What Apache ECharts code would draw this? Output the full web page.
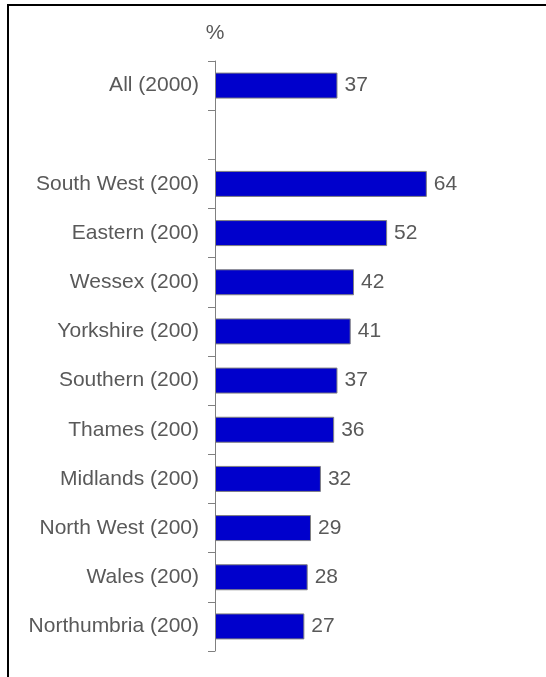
<!DOCTYPE html>
<html>
<head>
<meta charset="utf-8">
<script src="https://cdn.jsdelivr.net/npm/echarts@6/dist/echarts.min.js"></script>
<style>
  html, body { margin: 0; padding: 0; background: #fff; }
  #chart { width: 546px; height: 677px; }
</style>
</head>
<body>
<div id="chart"></div>
<script>
// Regions and sample sizes; the empty entry leaves a gap after the total
const categories = [
  'All (2000)', '',
  'South West (200)', 'Eastern (200)', 'Wessex (200)', 'Yorkshire (200)',
  'Southern (200)', 'Thames (200)', 'Midlands (200)', 'North West (200)',
  'Wales (200)', 'Northumbria (200)'
];
const values = [37, null, 64, 52, 42, 41, 37, 36, 32, 29, 28, 27];
const unitLabel = '%';

const textColor = '#595959';
const chart = echarts.init(document.getElementById('chart'), null, { renderer: 'canvas' });

chart.setOption({
  animation: false,
  backgroundColor: '#fff',
  textStyle: { fontFamily: 'Liberation Sans, Arial, sans-serif' },
  graphic: [{
    type: 'rect',
    shape: { x: 8, y: 5, width: 560, height: 700 },
    style: { fill: 'none', stroke: '#000', lineWidth: 2 },
    silent: true
  }],
  grid: { left: 215, top: 61, right: 0, bottom: 26, containLabel: false },
  xAxis: {
    type: 'value', min: 0, max: 100,
    show: false
  },
  yAxis: {
    type: 'category',
    data: categories,
    inverse: true,
    name: unitLabel,
    nameLocation: 'start',
    nameGap: 17,
    nameTextStyle: { color: textColor, fontSize: 21, align: 'center' },
    axisLine: { show: true, lineStyle: { color: '#808080', width: 1 } },
    axisTick: { show: true, length: 7, lineStyle: { color: '#808080' } },
    axisLabel: { color: textColor, fontSize: 21, margin: 16 },
    splitLine: { show: false }
  },
  series: [{
    type: 'bar',
    data: values,
    barWidth: 26,
    itemStyle: { color: '#0000CC', borderColor: '#808080', borderWidth: 1 },
    label: {
      show: true, position: 'right', distance: 7,
      color: textColor, fontSize: 21
    }
  }]
});
</script>
</body>
</html>
